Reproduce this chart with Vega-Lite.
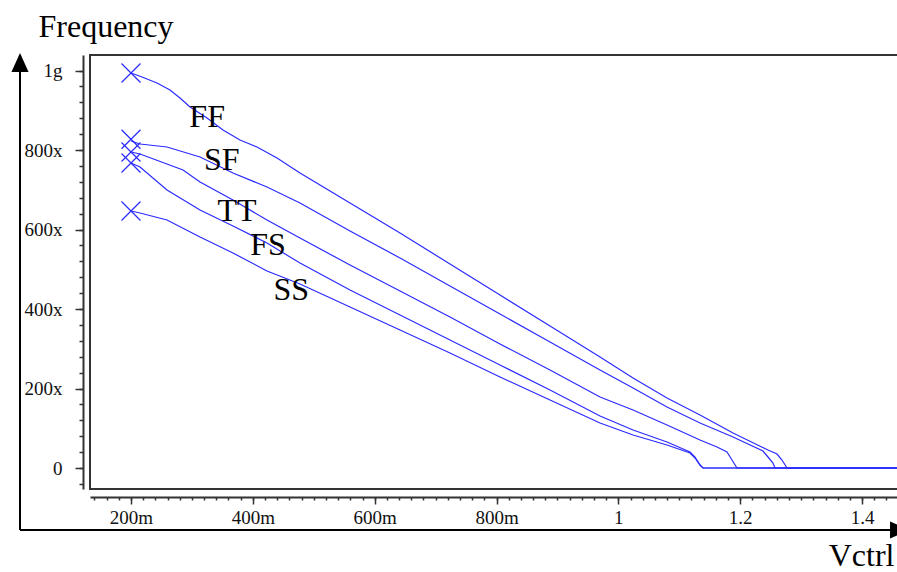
{
  "$schema": "https://vega.github.io/schema/vega-lite/v6.json",
  "width": 808,
  "height": 434,
  "autosize": {"type": "none"},
  "padding": {"left": 90, "top": 55, "right": 0, "bottom": 83},
  "background": "white",
  "config": {"view": {"stroke": "#333333", "strokeWidth": 2}, "font": "Liberation Serif"},
  "datasets": {
    "curves": [
      {"curve": "FF", "v": 0.2, "f": 993.7}, {"curve": "FF", "v": 0.2181, "f": 983.6}, {"curve": "FF", "v": 0.2427, "f": 968.6}, {"curve": "FF", "v": 0.264, "f": 950.9}, {"curve": "FF", "v": 0.2804, "f": 930.8}, {"curve": "FF", "v": 0.2969, "f": 908.2}, {"curve": "FF", "v": 0.3248, "f": 880.5}, {"curve": "FF", "v": 0.351, "f": 850.3}, {"curve": "FF", "v": 0.3789, "f": 825.2}, {"curve": "FF", "v": 0.4068, "f": 807.5}, {"curve": "FF", "v": 0.4397, "f": 779.9}, {"curve": "FF", "v": 0.4774, "f": 742.1}, {"curve": "FF", "v": 0.5595, "f": 666.7}, {"curve": "FF", "v": 0.6416, "f": 591.2}, {"curve": "FF", "v": 0.7236, "f": 513.2}, {"curve": "FF", "v": 0.8057, "f": 435.2}, {"curve": "FF", "v": 0.8878, "f": 357.2}, {"curve": "FF", "v": 0.9699, "f": 279.2}, {"curve": "FF", "v": 1.0241, "f": 226.4}, {"curve": "FF", "v": 1.0798, "f": 176.1}, {"curve": "FF", "v": 1.134, "f": 133.3}, {"curve": "FF", "v": 1.1882, "f": 88.1}, {"curve": "FF", "v": 1.2456, "f": 45.3}, {"curve": "FF", "v": 1.2604, "f": 35.2}, {"curve": "FF", "v": 1.2686, "f": 20.1}, {"curve": "FF", "v": 1.2768, "f": 0}, {"curve": "FF", "v": 1.47, "f": 0},
      {"curve": "SF", "v": 0.2, "f": 822.6}, {"curve": "SF", "v": 0.2148, "f": 815.1}, {"curve": "SF", "v": 0.2591, "f": 807.5}, {"curve": "SF", "v": 0.3133, "f": 782.4}, {"curve": "SF", "v": 0.3674, "f": 742.1}, {"curve": "SF", "v": 0.4232, "f": 706.9}, {"curve": "SF", "v": 0.4774, "f": 666.7}, {"curve": "SF", "v": 0.5595, "f": 596.2}, {"curve": "SF", "v": 0.6416, "f": 528.3}, {"curve": "SF", "v": 0.7236, "f": 457.9}, {"curve": "SF", "v": 0.8057, "f": 387.4}, {"curve": "SF", "v": 0.8878, "f": 317.0}, {"curve": "SF", "v": 0.9699, "f": 246.5}, {"curve": "SF", "v": 1.0241, "f": 201.3}, {"curve": "SF", "v": 1.0798, "f": 153.5}, {"curve": "SF", "v": 1.134, "f": 113.2}, {"curve": "SF", "v": 1.1882, "f": 78.0}, {"curve": "SF", "v": 1.2374, "f": 42.8}, {"curve": "SF", "v": 1.2456, "f": 27.7}, {"curve": "SF", "v": 1.2538, "f": 12.6}, {"curve": "SF", "v": 1.2571, "f": 0}, {"curve": "SF", "v": 1.47, "f": 0},
      {"curve": "TT", "v": 0.2, "f": 795.0}, {"curve": "TT", "v": 0.2148, "f": 789.9}, {"curve": "TT", "v": 0.2854, "f": 749.7}, {"curve": "TT", "v": 0.3133, "f": 719.5}, {"curve": "TT", "v": 0.3674, "f": 674.2}, {"curve": "TT", "v": 0.4232, "f": 623.9}, {"curve": "TT", "v": 0.4774, "f": 578.6}, {"curve": "TT", "v": 0.5595, "f": 510.7}, {"curve": "TT", "v": 0.6416, "f": 445.3}, {"curve": "TT", "v": 0.7236, "f": 379.9}, {"curve": "TT", "v": 0.8057, "f": 311.9}, {"curve": "TT", "v": 0.8878, "f": 246.5}, {"curve": "TT", "v": 0.9699, "f": 178.6}, {"curve": "TT", "v": 1.0241, "f": 145.9}, {"curve": "TT", "v": 1.0798, "f": 108.2}, {"curve": "TT", "v": 1.134, "f": 70.4}, {"curve": "TT", "v": 1.1619, "f": 52.8}, {"curve": "TT", "v": 1.1783, "f": 40.3}, {"curve": "TT", "v": 1.1865, "f": 20.1}, {"curve": "TT", "v": 1.1947, "f": 0}, {"curve": "TT", "v": 1.47, "f": 0},
      {"curve": "FS", "v": 0.2, "f": 767.3}, {"curve": "FS", "v": 0.2148, "f": 757.2}, {"curve": "FS", "v": 0.2591, "f": 699.4}, {"curve": "FS", "v": 0.3133, "f": 649.1}, {"curve": "FS", "v": 0.3674, "f": 608.8}, {"curve": "FS", "v": 0.4232, "f": 566.0}, {"curve": "FS", "v": 0.4774, "f": 515.7}, {"curve": "FS", "v": 0.5595, "f": 447.8}, {"curve": "FS", "v": 0.6416, "f": 384.9}, {"curve": "FS", "v": 0.7236, "f": 322.0}, {"curve": "FS", "v": 0.8057, "f": 259.1}, {"curve": "FS", "v": 0.8878, "f": 196.2}, {"curve": "FS", "v": 0.9699, "f": 130.8}, {"curve": "FS", "v": 1.0241, "f": 95.6}, {"curve": "FS", "v": 1.0798, "f": 65.4}, {"curve": "FS", "v": 1.1176, "f": 40.3}, {"curve": "FS", "v": 1.1258, "f": 27.7}, {"curve": "FS", "v": 1.134, "f": 7.5}, {"curve": "FS", "v": 1.1389, "f": 0}, {"curve": "FS", "v": 1.47, "f": 0},
      {"curve": "SS", "v": 0.2, "f": 646.5}, {"curve": "SS", "v": 0.2148, "f": 641.5}, {"curve": "SS", "v": 0.2591, "f": 623.9}, {"curve": "SS", "v": 0.3133, "f": 581.1}, {"curve": "SS", "v": 0.3674, "f": 540.9}, {"curve": "SS", "v": 0.4232, "f": 495.6}, {"curve": "SS", "v": 0.4774, "f": 462.9}, {"curve": "SS", "v": 0.5595, "f": 405.0}, {"curve": "SS", "v": 0.6416, "f": 347.2}, {"curve": "SS", "v": 0.7236, "f": 289.3}, {"curve": "SS", "v": 0.8057, "f": 228.9}, {"curve": "SS", "v": 0.8878, "f": 171.1}, {"curve": "SS", "v": 0.9699, "f": 113.2}, {"curve": "SS", "v": 1.0241, "f": 83.0}, {"curve": "SS", "v": 1.0798, "f": 57.9}, {"curve": "SS", "v": 1.1176, "f": 37.7}, {"curve": "SS", "v": 1.1258, "f": 25.2}, {"curve": "SS", "v": 1.134, "f": 7.5}, {"curve": "SS", "v": 1.1389, "f": 0}, {"curve": "SS", "v": 1.47, "f": 0}
    ],
    "markers": [
      {"curve": "FF", "v": 0.2, "f": 993.7},
      {"curve": "SF", "v": 0.2, "f": 827},
      {"curve": "TT", "v": 0.2, "f": 795.0},
      {"curve": "FS", "v": 0.2, "f": 767.3},
      {"curve": "SS", "v": 0.2, "f": 646.5}
    ],
    "labels": [
      {"name": "FF", "v": 0.325, "f": 883},
      {"name": "SF", "v": 0.349, "f": 775},
      {"name": "TT", "v": 0.374, "f": 647},
      {"name": "FS", "v": 0.425, "f": 561},
      {"name": "SS", "v": 0.463, "f": 448}
    ]
  },
  "resolve": {"axis": {"x": "independent", "y": "independent"}},
  "layer": [
    {
      "data": {"name": "curves"},
      "mark": {"type": "line", "color": "#2b2bff", "strokeWidth": 1.2, "clip": true},
      "encoding": {
        "x": {
          "field": "v", "type": "quantitative",
          "scale": {"domain": [0.1327, 1.459], "nice": false, "zero": false},
          "axis": {
            "orient": "bottom", "offset": 8, "title": null, "labels": false, "domain": false, "grid": false,
            "tickSize": 3, "tickColor": "#333333", "tickWidth": 1.5,
            "values": [0.14,0.16,0.18,0.2,0.22,0.24,0.26,0.28,0.3,0.32,0.34,0.36,0.38,0.4,0.42,0.44,0.46,0.48,0.5,0.52,0.54,0.56,0.58,0.6,0.62,0.64,0.66,0.68,0.7,0.72,0.74,0.76,0.78,0.8,0.82,0.84,0.86,0.88,0.9,0.92,0.94,0.96,0.98,1.0,1.02,1.04,1.06,1.08,1.1,1.12,1.14,1.16,1.18,1.2,1.22,1.24,1.26,1.28,1.3,1.32,1.34,1.36,1.38,1.4,1.42,1.44]
          }
        },
        "y": {
          "field": "f", "type": "quantitative",
          "scale": {"domain": [-52.8, 1039], "nice": false, "zero": false},
          "axis": {
            "orient": "left", "offset": 7, "title": null, "labels": false, "domain": false, "grid": false,
            "tickSize": 4, "tickColor": "#333333", "tickWidth": 1.5,
            "values": [-40,0,40,80,120,160,200,240,280,320,360,400,440,480,520,560,600,640,680,720,760,800,840,880,920,960,1000,1040]
          }
        },
        "detail": {"field": "curve"}
      }
    },
    {
      "data": {"name": "markers"},
      "mark": {"type": "point", "shape": "M-1,-1L1,1M1,-1L-1,1", "filled": false, "color": "#2b2bff", "strokeWidth": 1.2, "size": 360, "opacity": 1},
      "encoding": {
        "x": {
          "field": "v", "type": "quantitative",
          "axis": {
            "orient": "bottom", "offset": 8, "grid": false,
            "values": [0.2, 0.4, 0.6, 0.8, 1.0, 1.2, 1.4],
            "labelExpr": "datum.value < 0.99 ? format(datum.value * 1000, '.0f') + 'm' : format(datum.value, '~g')",
            "tickSize": 7, "tickColor": "#333333", "tickWidth": 1.5,
            "domainColor": "#333333", "domainWidth": 2,
            "labelFont": "Liberation Serif", "labelFontSize": 19, "labelColor": "#111111", "labelPadding": 4, "labelFlush": false, "labelOverlap": false,
            "title": "Vctrl", "titleFont": "Liberation Serif", "titleFontSize": 32, "titleFontWeight": "normal", "titleColor": "#000000",
            "titleAlign": "right", "titleBaseline": "alphabetic", "titleX": 804, "titleY": 68
          }
        },
        "y": {
          "field": "f", "type": "quantitative",
          "axis": {
            "orient": "left", "offset": 7, "grid": false,
            "values": [0, 200, 400, 600, 800, 1000],
            "labelExpr": "datum.value == 1000 ? '1g' : (datum.value == 0 ? '0' : datum.value + 'x')",
            "tickSize": 8, "tickColor": "#333333", "tickWidth": 1.5,
            "domainColor": "#333333", "domainWidth": 2,
            "labelFont": "Liberation Serif", "labelFontSize": 19, "labelColor": "#111111", "labelPadding": 13, "labelOverlap": false,
            "encode": {"labels": {"update": {"dy": {"signal": "datum.value == 0 ? -8 : 4"}}}},
            "title": "Frequency", "titleFont": "Liberation Serif", "titleFontSize": 32, "titleFontWeight": "normal", "titleColor": "#000000",
            "titleAngle": 0, "titleAlign": "left", "titleBaseline": "alphabetic", "titleX": -45, "titleY": -19
          }
        }
      }
    },
    {
      "data": {"name": "labels"},
      "mark": {"type": "text", "font": "Liberation Serif", "fontSize": 32, "color": "#000000", "align": "center", "baseline": "middle"},
      "encoding": {
        "x": {"field": "v", "type": "quantitative", "axis": null},
        "y": {"field": "f", "type": "quantitative", "axis": null},
        "text": {"field": "name"}
      }
    },
    {
      "data": {"values": [{}]},
      "mark": {"type": "rule", "color": "#000000", "strokeWidth": 2, "clip": false},
      "encoding": {
        "x": {"datum": 0.0178, "type": "quantitative", "axis": null},
        "y": {"datum": 1030, "type": "quantitative", "axis": null},
        "y2": {"datum": -156}
      }
    },
    {
      "data": {"values": [{}]},
      "mark": {"type": "rule", "color": "#000000", "strokeWidth": 2, "clip": false},
      "encoding": {
        "x": {"datum": 0.0178, "type": "quantitative", "axis": null},
        "x2": {"datum": 1.455},
        "y": {"datum": -156, "type": "quantitative", "axis": null}
      }
    },
    {
      "data": {"values": [{}]},
      "mark": {"type": "point", "shape": "M0,-1L0.9,1L-0.9,1Z", "filled": true, "color": "#000000", "size": 361, "opacity": 1, "clip": false},
      "encoding": {
        "x": {"datum": 0.0178, "type": "quantitative", "axis": null},
        "y": {"datum": 1020, "type": "quantitative", "axis": null}
      }
    },
    {
      "data": {"values": [{}]},
      "mark": {"type": "point", "shape": "M1,0L-1,0.9L-1,-0.9Z", "filled": true, "color": "#000000", "size": 361, "opacity": 1, "clip": false},
      "encoding": {
        "x": {"datum": 1.4615, "type": "quantitative", "axis": null},
        "y": {"datum": -156, "type": "quantitative", "axis": null}
      }
    }
  ]
}
